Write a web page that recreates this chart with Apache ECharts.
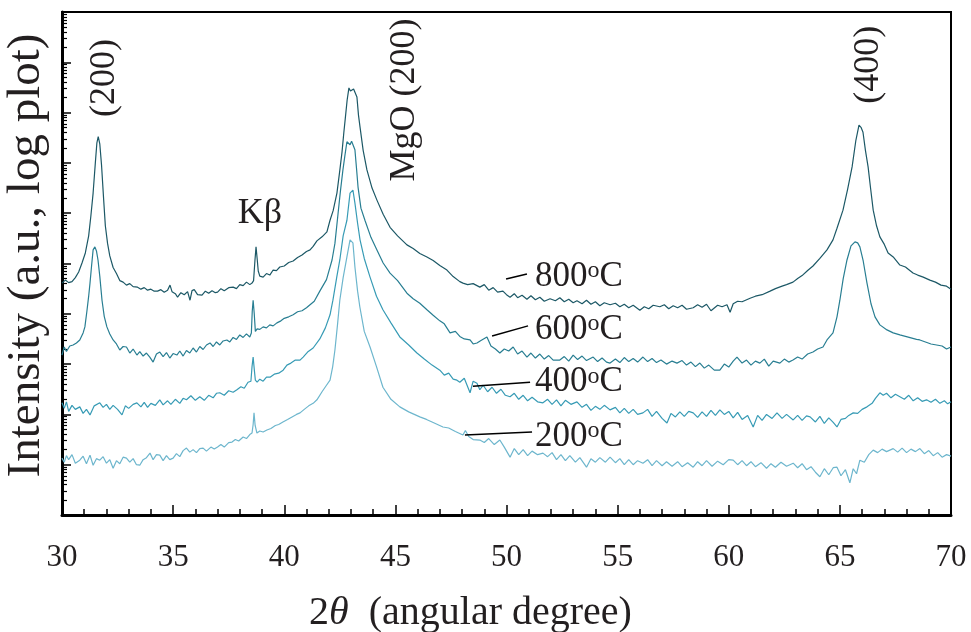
<!DOCTYPE html>
<html><head><meta charset="utf-8">
<script src="https://cdn.jsdelivr.net/npm/echarts@6/dist/echarts.min.js"></script>
<style>html,body{margin:0;padding:0;background:#fff}#c{width:971px;height:632px}</style>
</head><body><div id="c"></div>
<script>
// x-axis tick labels (2θ, degrees)
const xTickLabels = [30, 35, 40, 45, 50, 55, 60, 65, 70];
const seriesTemps = ['200', '400', '600', '800'];

// each point: [2θ (deg), log10 of intensity (a.u.)]
const log800 = [
[30.0,4.61],[30.15,4.67],[30.3,4.62],[30.45,4.64],[30.6,4.72],[30.75,4.83],[30.9,5.01],[31.05,5.21],[31.2,5.55],[31.3,5.95],
[31.4,6.40],[31.5,7.00],[31.57,7.40],[31.63,7.52],[31.7,7.38],[31.78,6.95],[31.87,6.30],[31.95,5.75],[32.05,5.40],[32.15,5.15],
[32.3,4.92],[32.45,4.80],[32.6,4.66],[32.75,4.63],[32.9,4.57],[33.05,4.60],[33.2,4.54],[33.4,4.53],[33.55,4.49],[33.7,4.52],
[33.85,4.47],[34.0,4.49],[34.15,4.45],[34.3,4.45],[34.45,4.48],[34.6,4.43],[34.75,4.47],[34.86,4.57],[34.95,4.44],[35.1,4.40],
[35.2,4.33],[35.35,4.42],[35.5,4.38],[35.65,4.44],[35.76,4.27],[35.85,4.46],[35.95,4.48],[36.1,4.38],[36.3,4.37],[36.45,4.45],
[36.6,4.41],[36.75,4.46],[36.9,4.42],[37.0,4.43],[37.15,4.50],[37.3,4.46],[37.5,4.52],[37.7,4.53],[37.85,4.50],[38.0,4.58],
[38.15,4.56],[38.3,4.63],[38.45,4.58],[38.55,4.61],[38.62,4.66],[38.68,5.05],[38.73,5.33],[38.78,5.10],[38.83,4.85],[38.9,4.75],
[39.05,4.73],[39.2,4.80],[39.35,4.77],[39.5,4.87],[39.65,4.86],[39.8,4.93],[40.0,4.95],[40.2,5.02],[40.4,5.05],[40.6,5.12],
[40.8,5.17],[41.0,5.24],[41.16,5.27],[41.3,5.34],[41.47,5.45],[41.7,5.53],[41.92,5.63],[42.06,5.86],[42.2,6.05],[42.37,6.40],
[42.5,6.85],[42.6,7.22],[42.68,7.60],[42.75,7.90],[42.83,8.25],[42.91,8.49],[42.98,8.43],[43.05,8.41],[43.12,8.47],[43.18,8.45],
[43.27,8.31],[43.34,7.95],[43.41,7.71],[43.55,7.25],[43.72,6.86],[43.95,6.50],[44.17,6.26],[44.45,5.98],[44.76,5.72],[45.1,5.55],
[45.52,5.37],[45.8,5.30],[46.1,5.20],[46.42,5.13],[46.7,5.06],[47.0,4.96],[47.32,4.87],[47.6,4.74],[47.9,4.64],[48.04,4.61],
[48.25,4.58],[48.5,4.60],[48.8,4.53],[49.0,4.58],[49.2,4.47],[49.4,4.52],[49.6,4.43],[49.84,4.45],[50.0,4.38],[50.16,4.33],
[50.35,4.40],[50.5,4.32],[50.7,4.37],[50.92,4.29],[51.1,4.36],[51.3,4.28],[51.5,4.33],[51.7,4.25],[51.96,4.30],[52.2,4.26],
[52.4,4.32],[52.6,4.24],[52.8,4.29],[53.0,4.22],[53.17,4.26],[53.4,4.20],[53.6,4.27],[53.8,4.19],[54.0,4.24],[54.2,4.16],
[54.4,4.22],[54.66,4.18],[54.9,4.21],[55.1,4.14],[55.3,4.19],[55.5,4.12],[55.7,4.17],[56.0,4.07],[56.2,4.14],[56.4,4.10],
[56.6,4.17],[56.9,4.14],[57.1,4.18],[57.3,4.10],[57.5,4.16],[57.7,4.12],[57.9,4.17],[58.1,4.09],[58.4,4.12],[58.6,4.18],
[58.8,4.13],[59.0,4.19],[59.2,4.06],[59.5,4.17],[59.7,4.14],[59.92,4.18],[60.06,4.03],[60.2,4.20],[60.4,4.25],[60.6,4.24],
[60.96,4.31],[61.2,4.35],[61.5,4.38],[61.86,4.45],[62.1,4.50],[62.4,4.55],[62.6,4.58],[62.89,4.63],[63.1,4.70],[63.3,4.76],
[63.55,4.86],[63.79,4.95],[64.1,5.10],[64.42,5.27],[64.69,5.47],[64.87,5.70],[65.14,6.06],[65.35,6.48],[65.55,6.92],[65.72,7.45],
[65.86,7.75],[65.96,7.70],[66.04,7.61],[66.15,7.25],[66.27,6.92],[66.38,6.50],[66.5,6.06],[66.65,5.75],[66.8,5.53],[67.0,5.38],
[67.17,5.21],[67.4,5.13],[67.7,4.97],[67.95,4.93],[68.29,4.81],[68.5,4.77],[68.75,4.73],[69.05,4.67],[69.3,4.63],[69.55,4.57],
[69.8,4.55],[70.0,4.49]
];
const log600 = [
[30.0,3.18],[30.1,3.34],[30.2,3.25],[30.35,3.36],[30.5,3.38],[30.65,3.42],[30.8,3.48],[30.95,3.62],[31.03,3.74],[31.12,4.05],
[31.2,4.35],[31.26,4.61],[31.33,4.95],[31.4,5.27],[31.48,5.33],[31.55,5.25],[31.62,5.07],[31.7,4.75],[31.8,4.27],[31.9,3.95],
[32.02,3.74],[32.15,3.60],[32.3,3.48],[32.45,3.40],[32.6,3.28],[32.75,3.35],[32.9,3.34],[33.05,3.22],[33.2,3.30],[33.37,3.18],
[33.5,3.25],[33.65,3.16],[33.8,3.22],[33.95,3.14],[34.1,3.04],[34.25,3.20],[34.4,3.24],[34.55,3.15],[34.7,3.23],[34.85,3.12],
[35.0,3.21],[35.17,3.18],[35.3,3.26],[35.45,3.16],[35.6,3.27],[35.75,3.22],[35.9,3.32],[36.05,3.24],[36.2,3.35],[36.35,3.29],
[36.5,3.38],[36.66,3.42],[36.8,3.35],[36.95,3.44],[37.1,3.38],[37.25,3.46],[37.42,3.48],[37.55,3.44],[37.7,3.53],[37.85,3.49],
[38.0,3.58],[38.15,3.53],[38.3,3.60],[38.45,3.54],[38.52,3.62],[38.56,4.05],[38.6,4.27],[38.65,4.00],[38.7,3.65],[38.78,3.70],
[38.9,3.69],[39.05,3.74],[39.2,3.72],[39.35,3.78],[39.5,3.76],[39.67,3.82],[39.85,3.86],[40.0,3.91],[40.2,3.94],[40.4,3.98],
[40.6,4.04],[40.8,4.06],[41.0,4.12],[41.35,4.25],[41.6,4.45],[41.9,4.68],[42.15,5.07],[42.28,5.40],[42.42,5.99],[42.53,6.45],
[42.64,6.86],[42.73,7.15],[42.82,7.42],[42.89,7.41],[42.96,7.36],[43.03,7.43],[43.09,7.46],[43.18,7.26],[43.25,6.90],[43.32,6.52],
[43.45,6.10],[43.63,5.86],[43.9,5.52],[44.17,5.27],[44.45,5.01],[44.76,4.81],[45.1,4.66],[45.52,4.41],[45.8,4.30],[46.1,4.21],
[46.42,4.08],[46.7,3.97],[47.0,3.86],[47.2,3.80],[47.46,3.62],[47.7,3.65],[47.9,3.55],[48.1,3.50],[48.36,3.48],[48.5,3.40],
[48.67,3.42],[48.85,3.47],[49.12,3.54],[49.3,3.36],[49.5,3.30],[49.7,3.22],[49.9,3.30],[50.1,3.26],[50.3,3.34],[50.5,3.20],
[50.7,3.26],[50.92,3.14],[51.1,3.22],[51.3,3.12],[51.5,3.20],[51.7,3.10],[51.9,3.17],[52.1,3.08],[52.4,3.08],[52.6,3.15],
[52.8,3.06],[53.0,3.18],[53.2,3.09],[53.4,3.16],[53.6,3.07],[53.9,3.14],[54.1,3.05],[54.3,3.12],[54.5,3.04],[54.66,3.02],
[54.9,3.10],[55.1,3.03],[55.3,3.13],[55.5,3.05],[55.7,3.11],[55.9,3.04],[56.14,3.14],[56.35,3.05],[56.55,3.11],[56.75,3.03],
[56.95,3.08],[57.2,3.00],[57.45,3.06],[57.67,3.02],[57.9,3.07],[58.1,2.98],[58.3,3.04],[58.5,2.95],[58.7,3.02],[58.9,2.92],
[59.1,2.98],[59.35,2.88],[59.6,2.88],[59.8,3.00],[60.0,2.94],[60.2,3.06],[60.37,3.14],[60.6,3.02],[60.8,3.08],[61.0,2.98],
[61.2,3.06],[61.4,3.02],[61.6,3.10],[61.8,2.96],[62.0,3.06],[62.3,3.02],[62.5,3.10],[62.7,3.04],[62.89,3.08],[63.1,3.14],
[63.3,3.10],[63.55,3.20],[63.79,3.24],[64.0,3.30],[64.24,3.34],[64.42,3.48],[64.69,3.62],[64.87,3.94],[65.0,4.27],[65.15,4.70],
[65.32,5.07],[65.5,5.35],[65.68,5.43],[65.8,5.41],[65.9,5.33],[66.05,5.05],[66.22,4.61],[66.4,4.20],[66.58,3.94],[66.8,3.78],
[67.12,3.68],[67.4,3.62],[67.7,3.58],[67.95,3.55],[68.2,3.52],[68.45,3.49],[68.6,3.48],[68.85,3.44],[69.1,3.40],[69.35,3.38],
[69.6,3.36],[69.8,3.30],[70.0,3.34]
];
const log400 = [
[30.0,2.23],[30.1,2.12],[30.2,2.25],[30.3,2.06],[30.45,2.18],[30.6,2.10],[30.8,2.15],[30.95,2.02],[31.1,2.10],[31.26,1.99],
[31.45,2.17],[31.7,2.23],[31.85,2.14],[32.0,2.20],[32.15,2.10],[32.3,2.18],[32.5,2.10],[32.7,1.99],[32.85,2.17],[33.0,2.12],
[33.2,2.20],[33.37,2.23],[33.55,2.15],[33.7,2.24],[33.85,2.14],[34.0,2.22],[34.2,2.18],[34.4,2.29],[34.55,2.19],[34.75,2.27],
[34.9,2.20],[35.1,2.30],[35.3,2.22],[35.45,2.32],[35.6,2.29],[35.8,2.37],[36.0,2.28],[36.2,2.35],[36.4,2.28],[36.6,2.38],
[36.8,2.33],[36.95,2.42],[37.1,2.43],[37.3,2.38],[37.5,2.47],[37.7,2.44],[37.87,2.49],[38.05,2.55],[38.2,2.52],[38.37,2.64],
[38.5,2.66],[38.55,2.95],[38.6,3.14],[38.65,2.90],[38.7,2.68],[38.78,2.64],[38.9,2.70],[39.05,2.66],[39.2,2.74],[39.36,2.74],
[39.55,2.80],[39.75,2.82],[39.95,2.88],[40.12,2.98],[40.3,3.02],[40.5,3.08],[40.71,3.08],[40.85,3.14],[41.05,3.24],[41.3,3.32],
[41.6,3.50],[41.85,3.72],[42.06,3.98],[42.19,4.27],[42.37,4.75],[42.5,5.07],[42.65,5.55],[42.82,5.86],[42.96,6.40],[43.03,6.43],
[43.09,6.46],[43.18,6.20],[43.3,5.80],[43.41,5.47],[43.6,5.10],[43.86,4.73],[44.15,4.35],[44.44,4.08],[44.8,3.82],[45.2,3.54],
[45.6,3.38],[45.97,3.22],[46.3,3.10],[46.65,2.98],[47.0,2.88],[47.2,2.78],[47.4,2.82],[47.6,2.70],[47.77,2.68],[47.9,2.64],
[48.1,2.72],[48.36,2.43],[48.5,2.66],[48.67,2.62],[48.8,2.49],[48.95,2.58],[49.15,2.45],[49.35,2.54],[49.55,2.42],[49.75,2.50],
[49.95,2.38],[50.16,2.35],[50.35,2.42],[50.55,2.30],[50.75,2.38],[50.95,2.27],[51.15,2.34],[51.4,2.25],[51.64,2.23],[51.85,2.30],
[52.05,2.20],[52.25,2.29],[52.45,2.17],[52.65,2.28],[52.9,2.20],[53.17,2.25],[53.4,2.14],[53.6,2.20],[53.8,2.08],[54.0,2.16],
[54.2,2.10],[54.4,2.18],[54.66,2.09],[54.9,2.14],[55.1,2.03],[55.3,2.12],[55.5,2.02],[55.7,2.10],[55.9,2.00],[56.14,2.03],
[56.35,2.10],[56.55,1.96],[56.75,2.06],[57.0,1.92],[57.22,1.83],[57.4,2.02],[57.6,1.95],[57.8,2.05],[58.0,1.96],[58.2,2.06],
[58.4,2.03],[58.6,1.94],[58.8,2.05],[59.0,1.96],[59.2,2.08],[59.4,1.98],[59.6,2.09],[59.8,2.00],[60.0,2.06],[60.2,1.93],
[60.4,2.04],[60.6,1.90],[60.85,1.98],[61.1,1.75],[61.3,1.98],[61.5,1.88],[61.7,2.00],[61.95,1.92],[62.17,2.03],[62.4,1.92],
[62.6,2.00],[62.9,1.89],[63.1,1.98],[63.3,1.88],[63.5,1.97],[63.66,1.95],[63.9,1.85],[64.1,1.96],[64.3,1.82],[64.5,1.93],
[64.7,1.84],[64.87,1.75],[65.05,1.90],[65.25,1.92],[65.4,1.98],[65.6,2.03],[65.8,2.02],[66.0,2.10],[66.22,2.15],[66.45,2.22],
[66.6,2.32],[66.8,2.43],[66.95,2.38],[67.1,2.42],[67.3,2.33],[67.5,2.40],[67.7,2.35],[67.9,2.30],[68.1,2.38],[68.3,2.27],
[68.5,2.33],[68.7,2.26],[68.9,2.29],[69.1,2.24],[69.3,2.30],[69.5,2.22],[69.7,2.27],[69.85,2.21],[70.0,2.25]
];
const log200 = [
[30.0,1.13],[30.1,1.05],[30.2,1.18],[30.3,1.10],[30.45,1.20],[30.6,1.03],[30.8,1.09],[30.95,1.17],[31.1,1.02],[31.26,1.19],
[31.4,0.99],[31.55,1.12],[31.7,1.09],[31.85,1.16],[32.0,1.03],[32.15,1.10],[32.3,0.93],[32.45,1.08],[32.6,1.02],[32.75,1.15],
[32.9,1.13],[33.05,1.05],[33.2,1.12],[33.35,1.00],[33.5,0.99],[33.65,1.10],[33.8,1.14],[33.96,1.23],[34.1,1.10],[34.25,1.20],
[34.4,1.19],[34.55,1.08],[34.7,1.18],[34.85,1.10],[35.0,1.13],[35.15,1.22],[35.3,1.16],[35.45,1.28],[35.6,1.33],[35.75,1.25],
[35.9,1.30],[36.05,1.24],[36.2,1.32],[36.35,1.33],[36.5,1.27],[36.7,1.35],[36.85,1.31],[37.0,1.35],[37.15,1.40],[37.3,1.35],
[37.5,1.44],[37.65,1.45],[37.8,1.50],[37.95,1.47],[38.15,1.55],[38.3,1.52],[38.45,1.60],[38.55,1.63],[38.6,1.80],[38.64,2.03],
[38.69,1.78],[38.77,1.63],[38.9,1.67],[39.05,1.65],[39.22,1.69],[39.4,1.72],[39.6,1.78],[39.75,1.80],[39.94,1.85],[40.15,1.90],
[40.35,1.95],[40.55,2.00],[40.71,2.03],[40.9,2.10],[41.1,2.17],[41.3,2.22],[41.47,2.29],[41.7,2.45],[41.9,2.58],[42.06,2.68],
[42.18,2.95],[42.28,3.28],[42.4,3.80],[42.5,4.27],[42.65,4.72],[42.82,5.13],[42.96,5.47],[43.02,5.44],[43.09,5.41],[43.18,4.93],
[43.3,4.45],[43.4,4.14],[43.6,3.65],[43.86,3.34],[44.15,2.95],[44.44,2.54],[44.8,2.30],[45.2,2.15],[45.6,2.05],[46.1,1.95],
[46.4,1.90],[46.7,1.84],[47.14,1.75],[47.4,1.73],[47.7,1.66],[48.04,1.59],[48.15,1.68],[48.3,1.56],[48.5,1.50],[48.8,1.49],
[49.0,1.44],[49.2,1.52],[49.45,1.40],[49.7,1.49],[49.9,1.35],[50.16,1.15],[50.35,1.32],[50.55,1.20],[50.75,1.30],[50.95,1.18],
[51.15,1.27],[51.4,1.20],[51.64,1.23],[51.85,1.16],[52.05,1.24],[52.25,1.10],[52.45,1.20],[52.65,1.08],[52.85,1.18],[53.1,1.05],
[53.3,1.14],[53.6,0.95],[53.8,1.12],[54.0,1.05],[54.2,1.14],[54.45,1.05],[54.66,1.15],[54.9,1.04],[55.1,1.12],[55.3,1.00],
[55.5,1.10],[55.7,1.00],[55.9,1.08],[56.14,1.03],[56.35,1.10],[56.55,0.98],[56.75,1.08],[57.0,0.98],[57.2,1.06],[57.45,0.97],
[57.7,1.06],[57.9,0.96],[58.15,1.04],[58.4,0.95],[58.6,1.06],[58.8,0.98],[59.0,1.08],[59.25,0.97],[59.5,1.07],[59.75,1.00],
[60.0,1.10],[60.2,1.09],[60.4,1.00],[60.6,1.08],[60.8,0.98],[61.0,1.06],[61.2,0.96],[61.45,1.04],[61.7,0.93],[61.9,1.02],
[62.1,0.95],[62.35,1.05],[62.6,0.97],[62.9,1.03],[63.1,0.94],[63.3,1.02],[63.5,0.90],[63.7,0.96],[63.9,0.85],[64.1,0.76],
[64.3,0.92],[64.5,0.80],[64.7,0.94],[64.87,0.95],[65.05,0.78],[65.25,0.90],[65.45,0.64],[65.6,0.92],[65.75,0.82],[65.9,1.09],
[66.1,1.05],[66.3,1.20],[66.5,1.29],[66.7,1.24],[66.9,1.31],[67.1,1.26],[67.4,1.32],[67.6,1.25],[67.8,1.33],[68.0,1.24],
[68.2,1.31],[68.4,1.26],[68.6,1.32],[68.8,1.22],[69.0,1.28],[69.2,1.18],[69.4,1.24],[69.6,1.15],[69.8,1.20],[70.0,1.17]
];

// annotations (text, anchor in data space [2θ, log10 I])
const peakTexts = ['(200)', 'MgO (200)', '(400)'];
const peakAnchors = [[31.93, 8.69], [45.43, 8.25], [66.27, 8.95]];
const kbText = 'Kβ';
const kbAnchor = [38.91, 6.0];
const tempAnchors = [[51.28, 1.55], [51.28, 2.64], [51.28, 3.68], [51.28, 4.73]];
const leaderFrom = [[48.13, 1.59], [48.49, 2.56], [49.35, 3.56], [49.98, 4.69]];
const leaderTo = [[51.15, 1.65], [51.06, 2.64], [50.97, 3.76], [50.92, 4.79]];

const colors = ['#6db6cd', '#379bb5', '#287e92', '#1c5866'];
const FONT = 'Liberation Serif, Times New Roman, serif';
const TXT = '#231f20';

const logSets = [log200, log400, log600, log800];
const toData = arr => arr.map(p => [p[0], Math.pow(10, p[1])]);

const chart = echarts.init(document.getElementById('c'), null, {renderer: 'canvas'});
const option = {
  animation: false,
  backgroundColor: '#fff',
  grid: {left: 62, right: 20, top: 12, bottom: 117, containLabel: false, outerBoundsMode: 'none',
         show: true, borderColor: '#000', borderWidth: 2, backgroundColor: 'transparent'},
  xAxis: {
    type: 'value', min: xTickLabels[0], max: xTickLabels[xTickLabels.length - 1], interval: 5,
    axisLine: {show: true, onZero: false, lineStyle: {color: '#000', width: 3}},
    axisTick: {show: true, inside: true, length: 10, lineStyle: {color: '#000', width: 1.5}},
    minorTick: {show: true, splitNumber: 5, length: 6, lineStyle: {color: '#000', width: 1.5}},
    splitLine: {show: false},
    axisLabel: {show: true, margin: 27, color: TXT, fontSize: 31, fontFamily: FONT,
                formatter: v => String(v)},
    name: '{a|2}{b|θ}{a|  (angular degree)}',
    nameLocation: 'middle', nameGap: 78,
    nameTextStyle: {color: TXT, fontFamily: FONT, fontSize: 40, padding: [0, 72, 0, 0],
      rich: {a: {fontFamily: FONT, fontSize: 40, color: TXT},
             b: {fontFamily: FONT, fontSize: 40, color: TXT, fontStyle: 'italic'}}}
  },
  yAxis: {
    type: 'log', min: 1, max: 1e10, interval: 1, logBase: 10,
    axisLine: {show: true, lineStyle: {color: '#000', width: 3}},
    axisTick: {show: true, inside: true, length: 9, lineStyle: {color: '#000', width: 1.5}},
    minorTick: {show: true, splitNumber: 9, length: 5, lineStyle: {color: '#000', width: 1.2}},
    splitLine: {show: false},
    axisLabel: {show: false},
    name: 'Intensity (a.u., log plot)',
    nameLocation: 'middle', nameGap: 12, nameRotate: 90,
    nameTextStyle: {color: TXT, fontFamily: FONT, fontSize: 47, padding: [0, 0, 0, 16]}
  },
  series: logSets.map((arr, i) => ({
    name: seriesTemps[i] + 'oC', type: 'line', data: toData(arr), showSymbol: false, symbol: 'none',
    lineStyle: {color: colors[i], width: 1.2}, z: 2 + i
  }))
};
chart.setOption(option);

function px(p) { return chart.convertToPixel({gridIndex: 0}, [p[0], Math.pow(10, p[1])]); }
const graphics = [];
peakTexts.forEach((t, i) => {
  const q = px(peakAnchors[i]);
  graphics.push({type: 'text', x: q[0], y: q[1], rotation: Math.PI / 2, z: 50,
    style: {text: t, fill: TXT, font: '36px ' + FONT, textAlign: 'center', textVerticalAlign: 'middle'}});
});
{
  const q = px(kbAnchor);
  graphics.push({type: 'text', x: q[0], y: q[1], z: 50,
    style: {text: kbText, fill: TXT, font: '36px ' + FONT, textAlign: 'center', textVerticalAlign: 'middle'}});
}
tempAnchors.forEach((a, i) => {
  const q = px(a);
  graphics.push({type: 'text', x: q[0], y: q[1], z: 50,
    style: {text: '{n|' + seriesTemps[i] + '}{s|o}{n|C}', textAlign: 'left', textVerticalAlign: 'middle',
      rich: {n: {fontFamily: FONT, fontSize: 35, fill: TXT, color: TXT, lineHeight: 36},
             s: {fontFamily: FONT, fontSize: 24, fill: TXT, color: TXT, verticalAlign: 'top', lineHeight: 18}}}});
  const f = px(leaderFrom[i]), g = px(leaderTo[i]);
  graphics.push({type: 'line', z: 50, shape: {x1: f[0], y1: f[1], x2: g[0], y2: g[1]},
    style: {stroke: '#000', lineWidth: 1.5}});
});
chart.setOption({graphic: graphics});
</script></body></html>
